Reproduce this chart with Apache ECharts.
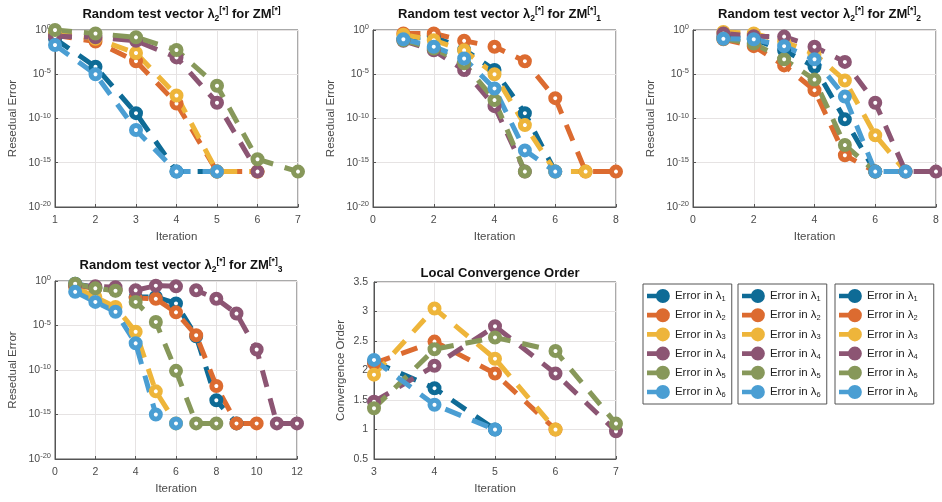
<!DOCTYPE html>
<html><head><meta charset="utf-8">
<script src="https://cdn.jsdelivr.net/npm/echarts@6/dist/echarts.min.js"></script>
<style>html,body{margin:0;background:#fff}#c{width:942px;height:502px}</style>
</head><body><div id="c"></div>
<script>
// ---------- categories / labels ----------
const seriesNames = ['Error in λ1','Error in λ2','Error in λ3','Error in λ4','Error in λ5','Error in λ6'];
const seriesColors = ['#0e6b96','#dc6b30','#eeb53a','#8c5573','#87985a','#4a9ed3'];
const titles = [
  'Random test vector λ{s|2}{p|[*]} for ZM{p|[*]}',
  'Random test vector λ{s|2}{p|[*]} for ZM{p|[*]}{s|1}',
  'Random test vector λ{s|2}{p|[*]} for ZM{p|[*]}{s|2}',
  'Random test vector λ{s|2}{p|[*]} for ZM{p|[*]}{s|3}',
  'Local Convergence Order'
];
// ---------- iteration values (x) ----------
const iterA = [1,2,3,4,5,6,7,8,9,10,11,12];
const iterOrder = [3,4,5,6,7];

// ---------- Plot 1: ZM ----------
const p1L1 = [0.1, 7e-5, 4e-10, 1e-16, 1e-16];
const p1L2 = [0.25, 0.05, 3e-4, 5e-9, 1e-16, 1e-16];
const p1L3 = [0.5, 0.1, 2.5e-3, 4e-8, 1e-16, 1e-16];
const p1L4 = [0.2, 0.15, 0.06, 8e-4, 6e-9, 1e-16];
const p1L5 = [1, 0.4, 0.15, 5.5e-3, 5e-7, 2.5e-15, 1e-16];
const p1L6 = [0.02, 1e-5, 5e-12, 1e-16, 1e-16];
// ---------- Plot 2: ZM1 ----------
const p2L1 = [0.1, 0.2, 6e-3, 3e-5, 4e-10, 1e-16];
const p2L2 = [0.4, 0.4, 0.06, 0.013, 3e-4, 2e-8, 1e-16, 1e-16];
const p2L3 = [0.3, 0.07, 5e-3, 1e-5, 1.8e-11, 1e-16, 1e-16];
const p2L4 = [0.06, 5e-3, 3e-5, 2.5e-9, 1e-16];
const p2L5 = [0.07, 8e-3, 1.7e-4, 1.2e-8, 1e-16];
const p2L6 = [0.09, 0.013, 6e-4, 2.5e-7, 2.5e-14, 1e-16];
// ---------- Plot 3: ZM2 ----------
const p3L1 = [0.18, 0.09, 5e-3, 7e-5, 8e-11, 1e-16];
const p3L2 = [0.09, 0.015, 1e-4, 1.6e-7, 7e-15, 1e-16];
const p3L3 = [0.6, 0.4, 0.05, 2e-3, 2e-6, 1.3e-12, 1e-16];
const p3L4 = [0.4, 0.2, 0.18, 0.013, 2.5e-4, 6e-9, 1e-16, 1e-16];
const p3L5 = [0.1, 0.03, 5e-4, 2.5e-6, 1e-13, 1e-16];
const p3L6 = [0.1, 0.09, 0.015, 5e-4, 3e-8, 1e-16, 1e-16];
// ---------- Plot 4: ZM3 ----------
const p4L1 = [0.5, 0.18, 0.09, 0.016, 0.016, 3e-3, 6e-7, 4e-14, 1e-16];
const p4L2 = [0.3, 0.15, 0.09, 0.012, 0.01, 3e-4, 8e-7, 1.6e-12, 1e-16, 1e-16];
const p4L3 = [0.2, 0.016, 1.2e-3, 2e-6, 4e-13, 1e-16];
const p4L4 = [0.3, 0.25, 0.2, 0.09, 0.3, 0.25, 0.09, 0.01, 2.2e-4, 2e-8, 1e-16, 1e-16];
const p4L5 = [0.5, 0.15, 0.08, 4.5e-3, 2.5e-5, 8e-11, 1e-16, 1e-16];
const p4L6 = [0.06, 4.5e-3, 3.5e-4, 1e-7, 1e-15, 1e-16];
// ---------- Plot 5: convergence order ----------
const p5L1 = [2.15, 1.70, 1.00];
const p5L2 = [2.12, 2.49, 1.95, 1.00];
const p5L3 = [1.93, 3.05, 2.20, 1.00];
const p5L4 = [1.47, 2.08, 2.75, 1.95, 0.97];
const p5L5 = [1.36, 2.36, 2.56, 2.33, 1.10];
const p5L6 = [2.18, 1.42, 1.00];

const plotSeries = [
  {iter: iterA, vals: [p1L1,p1L2,p1L3,p1L4,p1L5,p1L6]},
  {iter: iterA, vals: [p2L1,p2L2,p2L3,p2L4,p2L5,p2L6]},
  {iter: iterA, vals: [p3L1,p3L2,p3L3,p3L4,p3L5,p3L6]},
  {iter: iterA, vals: [p4L1,p4L2,p4L3,p4L4,p4L5,p4L6]},
  {iter: iterOrder, vals: [p5L1,p5L2,p5L3,p5L4,p5L5,p5L6]}
];

const grids = [
  {left: 55, top: 30, width: 243, height: 177},
  {left: 373, top: 30, width: 243, height: 177},
  {left: 693, top: 30, width: 243, height: 177},
  {left: 55, top: 281, width: 242, height: 178},
  {left: 374, top: 282, width: 242, height: 177}
];
const xRanges = [[1,7,1],[0,8,2],[0,8,2],[0,12,2],[3,7,1]];

const FONT = 'Liberation Sans, Arial, sans-serif';
const tickColor = '#4a4a4a';
const axisColor = '#555';
const gridLineColor = '#e6e3e3';

const chart = echarts.init(document.getElementById('c'), null, {renderer: 'canvas'});

const titleOpts = titles.map((t, i) => ({
  text: t,
  left: grids[i].left + grids[i].width / 2,
  top: grids[i].top - (i === 4 ? 20 : 29),
  textAlign: 'center',
  textStyle: {
    fontFamily: FONT, fontSize: 13, fontWeight: 'bold', color: '#111',
    rich: {
      s: {fontSize: 8.5, fontWeight: 'bold', fontFamily: FONT, color: '#111', verticalAlign: 'bottom', padding: [8, 0, 0, 0]},
      p: {fontSize: 8.5, fontWeight: 'bold', fontFamily: FONT, color: '#111', verticalAlign: 'top', padding: [0, 0, 8, 0]}
    }
  }
}));

const xAxes = xRanges.map((r, i) => ({
  gridIndex: i, type: 'value', min: r[0], max: r[1], interval: r[2],
  name: 'Iteration', nameLocation: 'middle', nameGap: 24,
  nameTextStyle: {fontFamily: FONT, fontSize: 11.5, color: tickColor},
  axisLine: {show: true, onZero: false, lineStyle: {color: axisColor}},
  axisTick: {show: true, inside: true, length: 3, lineStyle: {color: axisColor}},
  axisLabel: {fontFamily: FONT, fontSize: 10.5, color: tickColor, margin: 8},
  splitLine: {show: true, lineStyle: {color: gridLineColor}}
}));

const logLabel = {
  fontFamily: FONT, fontSize: 10.5, color: tickColor, margin: 4,
  formatter: v => '10{e|' + Math.round(Math.log10(v)) + '}',
  rich: {e: {fontSize: 7.5, fontFamily: FONT, color: tickColor, verticalAlign: 'top', padding: [0, 0, 6, 0]}}
};
const yAxes = [0,1,2,3].map(i => ({
  gridIndex: i, type: 'log', logBase: 10, min: 1e-20, max: 1, interval: 5,
  name: 'Resedual Error', nameLocation: 'middle', nameGap: 36,
  nameTextStyle: {fontFamily: FONT, fontSize: 11.5, color: tickColor},
  axisLine: {show: true, lineStyle: {color: axisColor}},
  axisTick: {show: true, inside: true, length: 3, lineStyle: {color: axisColor}},
  axisLabel: logLabel,
  minorTick: {show: false},
  splitLine: {show: true, lineStyle: {color: gridLineColor}}
}));
yAxes.push({
  gridIndex: 4, type: 'value', min: 0.5, max: 3.5, interval: 0.5,
  name: 'Convergence Order', nameLocation: 'middle', nameGap: 27,
  nameTextStyle: {fontFamily: FONT, fontSize: 11.5, color: tickColor},
  axisLine: {show: true, lineStyle: {color: axisColor}},
  axisTick: {show: true, inside: true, length: 3, lineStyle: {color: axisColor}},
  axisLabel: {fontFamily: FONT, fontSize: 10.5, color: tickColor, margin: 6},
  splitLine: {show: true, lineStyle: {color: gridLineColor}}
});

const series = [];
plotSeries.forEach((p, gi) => {
  p.vals.forEach((vals, si) => {
    series.push({
      name: seriesNames[si], type: 'line', xAxisIndex: gi, yAxisIndex: gi,
      data: vals.map((v, k) => [p.iter[k], v]),
      symbol: 'circle', symbolSize: 9, showAllSymbol: true,
      itemStyle: {color: '#ffffff', borderColor: seriesColors[si], borderWidth: 5},
      lineStyle: {color: seriesColors[si], width: 5, type: [17, 12], cap: 'butt'},
      emphasis: {disabled: true}, silent: true
    });
  });
});

const legendIcon = 'path://M0,5L12,5L12,10L0,10Z M24.5,7.5A7.5,7.5 0 1,1 9.5,7.5A7.5,7.5 0 1,1 24.5,7.5Z';
const legendLefts = [643, 738, 835];
const legendRightPad = [6, 6, 16];
const legends = legendLefts.map((l, li) => ({
  left: l, top: 284, orient: 'vertical',
  icon: legendIcon, itemWidth: 23, itemHeight: 14, itemGap: 5.2,
  padding: [5, legendRightPad[li], 5, 4],
  borderColor: '#555', borderWidth: 1, backgroundColor: '#fff',
  selectedMode: false,
  data: seriesNames.map((n, i) => ({name: n, itemStyle: {color: seriesColors[i], borderColor: seriesColors[i], borderWidth: 0}})),
  formatter: n => n.replace(/(\d)$/, '{s|$1}'),
  textStyle: {
    fontFamily: FONT, fontSize: 11.5, color: '#222', padding: [0, 0, 0, 0],
    rich: {s: {fontSize: 7.5, fontFamily: FONT, color: '#222', verticalAlign: 'bottom', padding: [6, 0, 0, 0]}}
  }
}));

chart.setOption({
  animation: false,
  backgroundColor: '#fff',
  title: titleOpts,
  grid: grids.map(g => Object.assign({show: true, borderColor: axisColor, borderWidth: 1, backgroundColor: '#fff'}, g)),
  xAxis: xAxes,
  yAxis: yAxes,
  legend: legends,
  series: series
});
</script>
</body></html>
